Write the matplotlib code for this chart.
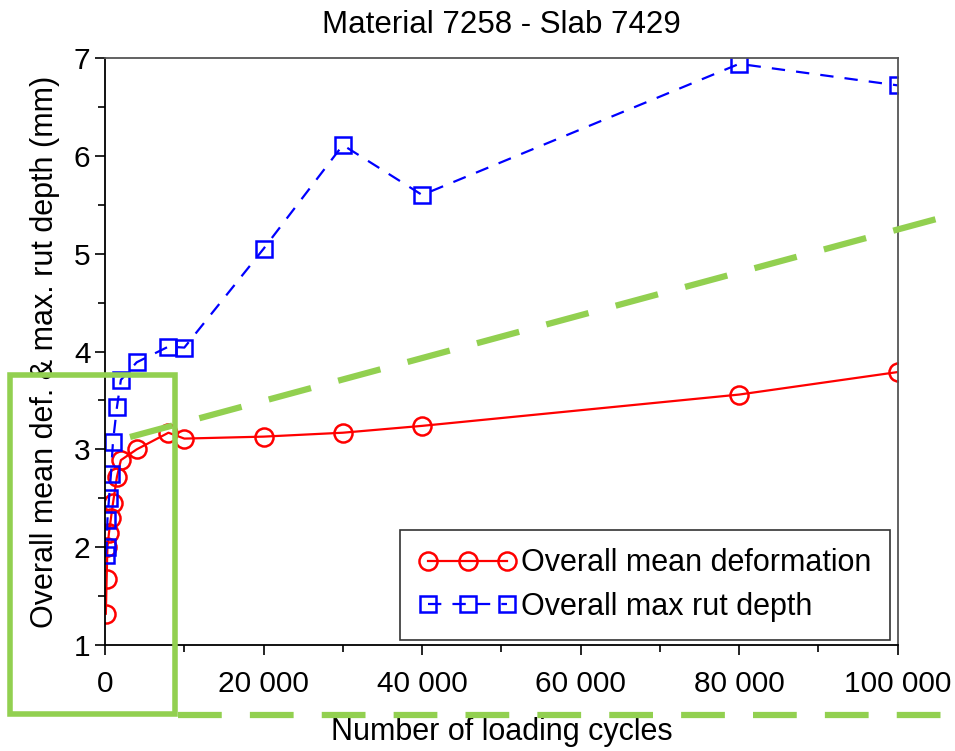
import matplotlib
matplotlib.use("Agg")
import matplotlib.pyplot as plt
from matplotlib.ticker import MultipleLocator, FuncFormatter
from matplotlib.lines import Line2D
from matplotlib.patches import Rectangle

plt.rcParams['font.family'] = ['Liberation Sans', 'DejaVu Sans']

# Loading cycles and measured deformation (mm)
cycles = [100, 200, 300, 500, 750, 1000, 1500, 2000, 4000, 8000, 10000,
          20000, 30000, 40000, 80000, 100000]
mean_deformation = [1.32, 1.68, 2.00, 2.15, 2.30, 2.45, 2.72, 2.89, 3.00,
                    3.17, 3.11, 3.13, 3.17, 3.24, 3.56, 3.79]
max_rut_depth = [1.92, 2.00, 2.28, 2.50, 2.75, 3.08, 3.43, 3.71, 3.89,
                 4.05, 4.04, 5.05, 6.11, 5.60, 6.94, 6.72]

title = "Material 7258 - Slab 7429"
xlabel = "Number of loading cycles"
ylabel = "Overall mean def. & max. rut depth (mm)"
series_labels = ["Overall mean deformation", "Overall max rut depth"]

fig = plt.figure(figsize=(9.55, 7.51), dpi=100)
ax = fig.add_axes([0.110, 0.1411, 0.830, 0.7817])

ax.plot(cycles, mean_deformation, color='#ff0000', lw=1.6, marker='o',
        ms=13, mfc='none', mec='#ff0000', mew=1.8, label=series_labels[0])
ax.plot(cycles, max_rut_depth, color='#0000ff', lw=1.6, ls=(0, (6, 5)),
        marker='s', ms=12, mfc='none', mec='#0000ff', mew=1.8,
        label=series_labels[1])

ax.set_xlim(0, 100000)
ax.set_ylim(1, 7)
ax.xaxis.set_major_locator(MultipleLocator(20000))
ax.xaxis.set_minor_locator(MultipleLocator(10000))
ax.yaxis.set_major_locator(MultipleLocator(1))
ax.yaxis.set_minor_locator(MultipleLocator(0.5))
ax.xaxis.set_major_formatter(FuncFormatter(lambda v, p: f"{int(v):,}".replace(",", " ")))
ax.tick_params(axis='both', which='major', direction='out', length=7, width=1.2,
               labelsize=21.5, colors='black')
ax.tick_params(axis='both', which='minor', direction='out', length=5, width=1.2)
ax.tick_params(axis='x', pad=11)
for s in ['left', 'bottom']:
    ax.spines[s].set_color('black')
    ax.spines[s].set_linewidth(1.3)
for s in ['top', 'right']:
    ax.spines[s].set_color('#555555')
    ax.spines[s].set_linewidth(1.3)

ax.set_title(title, fontsize=22.5, pad=18)
ax.set_xlabel(xlabel, fontsize=22, labelpad=14)
ax.set_ylabel(ylabel, fontsize=22, labelpad=10)

leg = ax.legend(loc='lower right', fontsize=22, numpoints=3, handlelength=3.2,
                handletextpad=0.15, frameon=True, fancybox=False, borderpad=0.6,
                labelspacing=0.45, borderaxespad=0, bbox_to_anchor=(0.99, 0.008))
leg.get_frame().set_edgecolor('black')
leg.get_frame().set_linewidth(1.2)

# Highlight overlay in figure pixel coordinates
W, H = 955, 751
green = '#92d050'
def fx(px):
    return px / W
def fy(py):
    return 1 - py / H

fig.patches.append(Rectangle((fx(10), fy(714)), fx(175) - fx(10), fy(375) - fy(714),
                             transform=fig.transFigure, fill=False,
                             edgecolor=green, lw=4, zorder=10))
fig.lines.append(Line2D([fx(130), fx(955)], [fy(437), fy(214)],
                        transform=fig.transFigure, color=green, lw=4.5,
                        ls=(0, (7, 4.5)), zorder=10))
fig.lines.append(Line2D([fx(178), fx(955)], [fy(715), fy(715)],
                        transform=fig.transFigure, color=green, lw=4.5,
                        ls=(0, (7, 4.5)), zorder=10))

fig.savefig("out.png", dpi=100)
